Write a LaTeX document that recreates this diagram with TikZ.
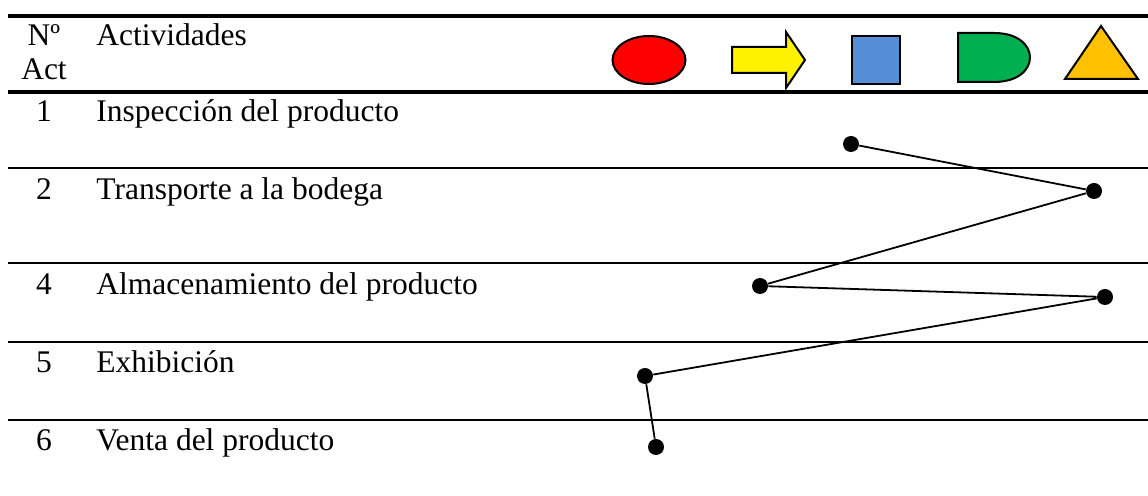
\documentclass[tikz,border=0pt]{standalone}
\usepackage{fontspec}
\setmainfont{Liberation Serif}
\usepackage{tikz}
\begin{document}
\begin{tikzpicture}[x=0.5pt,y=-0.5pt,
  txt/.style={inner sep=0pt,anchor=base west,font=\fontsize{15.75}{18}\selectfont},
  num/.style={inner sep=0pt,anchor=base,font=\fontsize{15.75}{18}\selectfont},
  dot/.style={circle,fill=black,inner sep=0pt,minimum size=8pt},
  shp/.style={draw=black,line width=1pt,line join=miter},
  rule/.style={line width=1pt},
  thickrule/.style={line width=1.6pt}]
\definecolor{symblue}{HTML}{558ED5}
\definecolor{symgreen}{HTML}{00B050}
\definecolor{symorange}{HTML}{FFC000}
\useasboundingbox (0,0) rectangle (1148,496);
% table rules
\draw[thickrule] (8,16) -- (1148,16);
\draw[thickrule] (8,92) -- (1148,92);
\foreach \y in {168,263,342,420} \draw[rule] (8,\y) -- (1148,\y);
% header
\node[num] (nro) at (44,46) {Nº};
\node[num] (act) at (44,80) {Act};
\node[txt] (actv) at (96,46) {Actividades};
% symbols
\filldraw[shp,fill=red] (649,60) ellipse [x radius=36.5,y radius=24];
\filldraw[shp,fill=yellow] (732,47) -- (786,47) -- (786,32) -- (805,60) -- (786,88) -- (786,73) -- (732,73) -- cycle;
\filldraw[shp,fill=symblue] (852,36) rectangle (900,84);
\filldraw[shp,fill=symgreen] (958,33) -- (994,33) .. controls (1042,33) and (1042,82) .. (994,82) -- (958,82) -- cycle;
\filldraw[shp,fill=symorange] (1101,26) -- (1138,79) -- (1065,79) -- cycle;
% activities
\foreach \n/\t/\y [count=\i] in {1/Inspección del producto/122,2/Transporte a la bodega/200,4/Almacenamiento del producto/295,5/Exhibición/373,6/Venta del producto/451}
{
  \node[num] (n\i) at (44,\y) {\n};
  \node[txt] (a\i) at (96,\y) {\t};
}
% flow
\node[dot] (p1) at (851,144) {};
\node[dot] (p2) at (1094,191) {};
\node[dot] (p3) at (760,286) {};
\node[dot] (p4) at (1105,297) {};
\node[dot] (p5) at (645,376) {};
\node[dot] (p6) at (656,447) {};
\draw[line width=0.9pt] (p1) -- (p2) -- (p3) -- (p4) -- (p5) -- (p6);
\end{tikzpicture}
\end{document}
